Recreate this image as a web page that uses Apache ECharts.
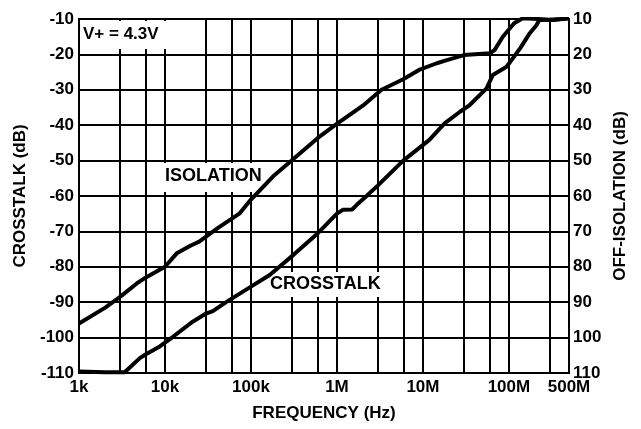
<!DOCTYPE html>
<html>
<head>
<meta charset="utf-8">
<script src="https://cdn.jsdelivr.net/npm/echarts@6/dist/echarts.min.js"></script>
<style>
  html, body { margin: 0; padding: 0; background: #fff; }
  #chart { width: 641px; height: 429px; }
</style>
</head>
<body>
<div id="chart"></div>
<script>
// isolation curve (upper)
const isoFreq = [1e3, 2e3, 3e3, 4.7e3, 6e3, 1e4, 1.37e4, 2e4, 2.5e4, 4.1e4, 7.4e4, 1e5, 1.8e5, 2.97e5, 6e5,
  9.5e5, 2e6, 3.3e6, 5.9e6, 9e6, 1.45e7, 1.9e7, 3e7, 6e7, 6.8e7, 8.5e7, 1.15e8, 1.45e8, 2.2e8, 3.3e8, 5e8];
const isoDb = [-96, -91.6, -88.5, -84.7, -83, -80, -76.2, -74, -72.9, -69.1, -64.9, -61, -54.5, -50, -43.6,
  -40, -34.5, -30, -27, -24.4, -22.5, -21.6, -20.2, -19.7, -18.8, -15, -11.2, -9.8, -10, -10.3, -9.8];

// crosstalk curve (lower)
const xtFreq = [1e3, 2e3, 3.4e3, 5.1e3, 6e3, 8.7e3, 1.25e4, 2.1e4, 3e4, 3.6e4, 5.2e4, 1e5, 1.65e5, 3.1e5, 6e5,
  1e6, 1.17e6, 1.5e6, 1.7e6, 2.1e6, 3e6, 5.9e6, 1.18e7, 1.8e7, 2.7e7, 3.5e7, 5.5e7, 6.5e7, 9.4e7, 1.35e8,
  1.75e8, 2.1e8, 2.25e8, 3e8, 4e8, 5e8];
const xtDb = [-109.6, -109.8, -109.8, -105.8, -104.7, -102.5, -99.7, -95.5, -93.2, -92.5, -89.9, -85.6, -82.3, -76.7, -70.5,
  -65, -63.9, -63.8, -62.5, -60.5, -57, -50, -44.2, -39.4, -36.2, -34.3, -29.6, -25.8, -23.5, -18.3,
  -14, -11.7, -10.3, -10.2, -10, -9.8];

// extra vertical grid lines (3x and 6x each decade)
const gridFreq = [3e3, 6e3, 3e4, 6e4, 3e5, 6e5, 3e6, 6e6, 3e7, 6e7, 3e8];

const chart = echarts.init(document.getElementById('chart'));

const fontFamily = '"Liberation Sans", Arial, Helvetica, sans-serif';
const labelStyle = { color: '#000', fontWeight: 'bold', fontSize: 17, fontFamily: fontFamily };
const nameStyle = { color: '#000', fontWeight: 'bold', fontSize: 17, fontFamily: fontFamily };

const fmtFreq = (v) => {
  const r = Math.round(v);
  if (r >= 1e6) return Math.round(r / 1e6) + 'M';
  if (r >= 1e3) return Math.round(r / 1e3) + 'k';
  return String(r);
};

const option = {
  animation: false,
  grid: {
    left: 79, right: 72, top: 19, bottom: 56,
    show: true, borderColor: '#000', borderWidth: 2, backgroundColor: '#fff'
  },
  xAxis: {
    type: 'log',
    logBase: 10,
    min: 1000,
    max: 5e8,
    name: 'FREQUENCY (Hz)',
    nameLocation: 'middle',
    nameGap: 32,
    nameTextStyle: nameStyle,
    axisLine: { show: true, lineStyle: { color: '#000', width: 2 } },
    axisTick: { show: false },
    axisLabel: Object.assign({ margin: 6, showMaxLabel: true, formatter: fmtFreq }, labelStyle),
    splitLine: { show: true, lineStyle: { color: '#000', width: 2 } },
    minorTick: { show: false },
    minorSplitLine: { show: false }
  },
  yAxis: [
    {
      type: 'value',
      min: -110,
      max: -10,
      interval: 10,
      name: 'CROSSTALK (dB)',
      nameLocation: 'middle',
      nameGap: 48,
      nameRotate: 90,
      nameTextStyle: nameStyle,
      axisLine: { show: true, lineStyle: { color: '#000', width: 2 } },
      axisTick: { show: false },
      axisLabel: Object.assign({ margin: 5 }, labelStyle),
      splitLine: { show: true, lineStyle: { color: '#000', width: 2 } }
    },
    {
      type: 'value',
      position: 'right',
      inverse: true,
      min: 10,
      max: 110,
      interval: 10,
      name: 'OFF-ISOLATION (dB)',
      nameLocation: 'middle',
      nameGap: 38,
      nameRotate: 90,
      nameTextStyle: nameStyle,
      axisLine: { show: true, lineStyle: { color: '#000', width: 2 } },
      axisTick: { show: false },
      axisLabel: Object.assign({ margin: 4 }, labelStyle),
      splitLine: { show: false }
    }
  ],
  series: [
    {
      name: 'grid',
      type: 'line',
      data: [],
      silent: true,
      z: 1,
      markLine: {
        silent: true,
        symbol: 'none',
        animation: false,
        z: 2,
        label: { show: false },
        lineStyle: { color: '#000', width: 2, type: 'solid' },
        data: gridFreq.map(f => ({ xAxis: f }))
      }
    },
    {
      name: 'ISOLATION',
      type: 'line',
      z: 10,
      symbol: 'none',
      lineStyle: { color: '#000', width: 4 },
      data: isoFreq.map((f, i) => [f, isoDb[i]])
    },
    {
      name: 'CROSSTALK',
      type: 'line',
      z: 10,
      symbol: 'none',
      lineStyle: { color: '#000', width: 4 },
      data: xtFreq.map((f, i) => [f, xtDb[i]])
    }
  ],
  graphic: [
    {
      type: 'rect', z: 6,
      shape: { x: 81, y: 21, width: 90, height: 28 },
      style: { fill: '#fff' }
    },
    {
      type: 'text', z: 7, x: 83, y: 26,
      style: Object.assign({ text: 'V+ = 4.3V', fill: '#000' }, labelStyle)
    },
    {
      type: 'rect', z: 6,
      shape: { x: 162, y: 163, width: 106, height: 29 },
      style: { fill: '#fff' }
    },
    {
      type: 'text', z: 7, x: 165, y: 167,
      style: { text: 'ISOLATION', fill: '#000', fontWeight: 'bold', fontSize: 18, fontFamily: fontFamily }
    },
    {
      type: 'rect', z: 6,
      shape: { x: 266, y: 272, width: 122, height: 25 },
      style: { fill: '#fff' }
    },
    {
      type: 'text', z: 7, x: 270, y: 275,
      style: { text: 'CROSSTALK', fill: '#000', fontWeight: 'bold', fontSize: 18, fontFamily: fontFamily }
    }
  ]
};

chart.setOption(option);
</script>
</body>
</html>
